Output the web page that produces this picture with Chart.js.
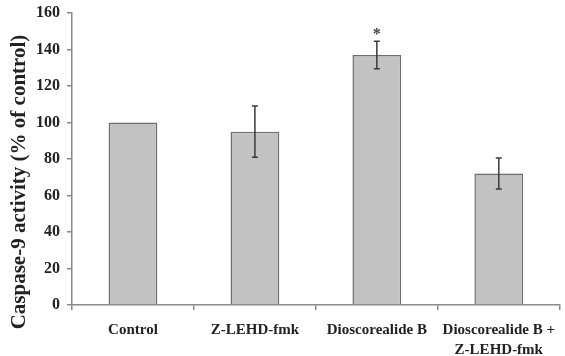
<!DOCTYPE html>
<html>
<head>
<meta charset="utf-8">
<script src="https://cdn.jsdelivr.net/npm/chart.js@4/dist/chart.umd.min.js"></script>
<style>
  html, body { margin: 0; padding: 0; background: #ffffff; }
  #wrap { width: 565px; height: 356px; position: relative; }
</style>
</head>
<body>
<div id="wrap"><canvas id="c" width="565" height="356"></canvas></div>
<script>
const categories = [["Control"], ["Z-LEHD-fmk"], ["Dioscorealide B"], ["Dioscorealide B +", "Z-LEHD-fmk"]];
const activityValues = [100, 95, 137, 72];
const errorValues = [0, 14, 7.5, 8.5];
const significance = ["", "", "*", ""];
const yTickValues = [0, 20, 40, 60, 80, 100, 120, 140, 160];
const yAxisTitle = "Caspase-9 activity (% of control)";

const serif = "'Liberation Serif', 'Times New Roman', serif";

const errorBarPlugin = {
  id: 'errorBars',
  afterDatasetsDraw(chart) {
    const ctx = chart.ctx;
    const meta = chart.getDatasetMeta(0);
    const y = chart.scales.y;
    ctx.save();
    meta.data.forEach((bar, i) => {
      const v = activityValues[i];
      const e = errorValues[i];
      const x = bar.x;
      if (e > 0) {
        const top = y.getPixelForValue(v + e);
        const bot = y.getPixelForValue(v - e);
        ctx.strokeStyle = '#3a3a3a';
        ctx.lineWidth = 1.5;
        ctx.beginPath();
        ctx.moveTo(x, top); ctx.lineTo(x, bot);
        ctx.moveTo(x - 3, top); ctx.lineTo(x + 3, top);
        ctx.moveTo(x - 3, bot); ctx.lineTo(x + 3, bot);
        ctx.stroke();
      }
      if (significance[i]) {
        const top = y.getPixelForValue(v + e);
        ctx.fillStyle = '#444';
        ctx.font = "bold 16px " + serif;
        ctx.textAlign = 'center';
        ctx.textBaseline = 'alphabetic';
        ctx.fillText(significance[i], x, top - 2);
      }
    });
    ctx.restore();
  }
};

const yTitlePlugin = {
  id: 'yTitle',
  afterDraw(chart) {
    const ctx = chart.ctx;
    ctx.save();
    ctx.translate(20, 182);
    ctx.rotate(-Math.PI / 2);
    ctx.fillStyle = '#222';
    ctx.font = "bold 21px " + serif;
    ctx.textAlign = 'center';
    ctx.textBaseline = 'middle';
    ctx.fillText(yAxisTitle, 0, 0);
    ctx.restore();
  }
};

new Chart(document.getElementById('c'), {
  type: 'bar',
  data: {
    labels: categories,
    datasets: [{
      data: activityValues,
      backgroundColor: '#c2c2c2',
      borderColor: '#6e6e6e',
      borderWidth: 1.5,
      barPercentage: 0.4,
      categoryPercentage: 1.0
    }]
  },
  options: {
    responsive: false,
    animation: false,
    devicePixelRatio: 1,
    layout: { padding: { top: 13, right: 0, left: 0, bottom: 0 } },
    plugins: { legend: { display: false }, tooltip: { enabled: false } },
    scales: {
      x: {
        border: { color: '#8a8a8a', width: 1.5 },
        grid: { display: true, drawOnChartArea: false, drawTicks: true, tickLength: 5, color: '#8a8a8a', lineWidth: 1.5 },
        ticks: {
          color: '#222',
          font: { family: serif, size: 15, weight: 'bold', lineHeight: 1.33 },
          padding: 10,
          maxRotation: 0,
          autoSkip: false
        },
        afterFit(scale) { scale.height = 51; }
      },
      y: {
        min: 0,
        max: 160,
        border: { color: '#8a8a8a', width: 1.5 },
        grid: { display: true, drawOnChartArea: false, drawTicks: true, tickLength: 5, color: '#8a8a8a', lineWidth: 1.5 },
        afterBuildTicks(scale) { scale.ticks = yTickValues.map(v => ({ value: v })); },
        ticks: {
          color: '#222',
          font: { family: serif, size: 16, weight: 'bold' },
          padding: 7
        },
        afterFit(scale) { scale.width = 72; scale.paddingTop = 0; scale.paddingBottom = 0; }
      }
    }
  },
  plugins: [errorBarPlugin, yTitlePlugin]
});
</script>
</body>
</html>
